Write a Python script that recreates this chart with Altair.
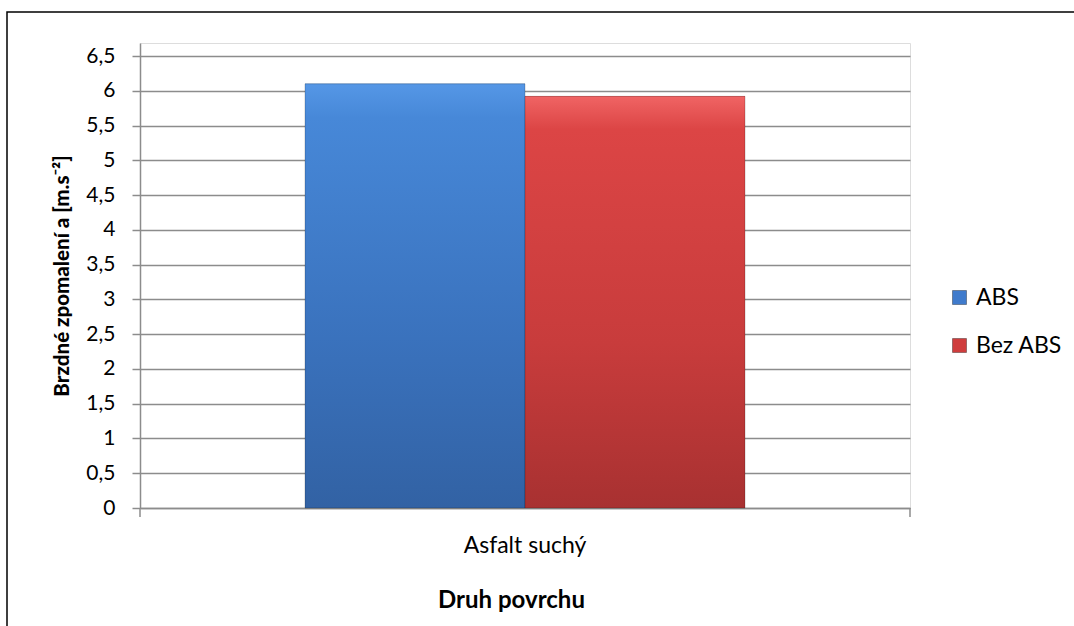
import altair as alt
import pandas as pd

# Braking deceleration measured on dry asphalt, with and without ABS
surfaces = ["Asfalt suchý"]
series = ["ABS", "Bez ABS"]
values = [6.1, 5.92]
tick_values = [0, 0.5, 1, 1.5, 2, 2.5, 3, 3.5, 4, 4.5, 5, 5.5, 6, 6.5]

series_colors = ["#3f7bcc", "#cf3d3d"]
gradients = {
    "ABS": alt.Gradient(
        gradient="linear", x1=0, x2=0, y1=0, y2=1,
        stops=[alt.GradientStop(color="#5597e6", offset=0),
               alt.GradientStop(color="#4788d8", offset=0.08),
               alt.GradientStop(color="#3a72bd", offset=0.6),
               alt.GradientStop(color="#3262a4", offset=1)],
    ),
    "Bez ABS": alt.Gradient(
        gradient="linear", x1=0, x2=0, y1=0, y2=1,
        stops=[alt.GradientStop(color="#f06464", offset=0),
               alt.GradientStop(color="#dc4545", offset=0.08),
               alt.GradientStop(color="#c83c3c", offset=0.6),
               alt.GradientStop(color="#a83131", offset=1)],
    ),
}

df = pd.DataFrame({
    "povrch": [surfaces[0]] * len(series),
    "serie": series,
    "hodnota": values,
})

W, H = 770, 465
FONT = "Lato"

x_enc = alt.X(
    "povrch:N",
    title="Druh povrchu",
    scale=alt.Scale(paddingInner=0, paddingOuter=0.375),
    axis=alt.Axis(
        labelAngle=0, labelFontSize=23, labelFont=FONT, labelColor="#000000",
        labelPadding=26, ticks=False, domain=True, domainColor="#8c8c8c",
        domainWidth=1.5, titleFontSize=24, titleFont=FONT, titleFontWeight="bold",
        titleColor="#000000", titlePadding=31, titleX=W / 2 - 14,
    ),
)
xoff = alt.XOffset("serie:N", sort=series, scale=alt.Scale(paddingInner=0, paddingOuter=0))
y_enc = alt.Y(
    "hodnota:Q",
    title="Brzdné zpomalení a [m.s⁻²]",
    scale=alt.Scale(domain=[0, 6.687], nice=False, zero=True),
    axis=alt.Axis(
        values=tick_values,
        labelExpr="replace(format(datum.value, '~g'), '.', ',')",
        labelFontSize=21, labelFont=FONT, labelColor="#000000", labelPadding=17,
        tickSize=8, tickColor="#8c8c8c", tickWidth=1.5,
        grid=True, gridColor="#8c8c8c", gridWidth=1.5,
        domain=True, domainColor="#8c8c8c", domainWidth=1.5,
        titleFontSize=20.5, titleFont=FONT, titleFontWeight=900,
        titleColor="#000000", titlePadding=13,
    ),
)

# Solid bars carry the legend
base = alt.Chart(df).mark_bar(size=220).encode(
    x=x_enc,
    xOffset=xoff,
    y=y_enc,
    color=alt.Color(
        "serie:N", sort=series, title=None,
        scale=alt.Scale(domain=series, range=series_colors),
        legend=alt.Legend(
            orient="none", legendX=808, legendY=243, symbolType="square",
            symbolSize=196, symbolStrokeWidth=1, symbolStrokeColor="#00000055",
            labelFontSize=23, labelFont=FONT,
            labelColor="#000000", rowPadding=24, labelOffset=5,
        ),
    ),
)

# Shaded overlays for each series
overlays = [
    alt.Chart(df).transform_filter(alt.datum.serie == s).mark_bar(
        color=gradients[s], stroke="#00000033", strokeWidth=1
    ).encode(x=x_enc, xOffset=xoff, y=y_enc)
    for s in series
]

# End ticks of the category axis
end_ticks = alt.Chart(pd.DataFrame({"p": [0, W]})).mark_rule(
    color="#8c8c8c", strokeWidth=1.5
).encode(x=alt.X("p:Q", scale=None), y=alt.value(H), y2=alt.value(H + 9))

# Frame round the chart
frame = alt.Chart(pd.DataFrame({"a": [0]})).mark_rect(
    fill=None, stroke="#000000", strokeWidth=1.5
).encode(x=alt.value(-133), x2=alt.value(960), y=alt.value(-31), y2=alt.value(600))

chart = alt.layer(frame, base, *overlays, end_ticks).properties(
    width=W, height=H,
    autosize=alt.AutoSizeParams(type="none"),
    padding={"left": 140, "top": 43, "right": 164, "bottom": 118},
).configure_view(stroke=None).configure(background="#ffffff")

chart.save("out.html", embed_options={"renderer": "svg", "actions": False})
